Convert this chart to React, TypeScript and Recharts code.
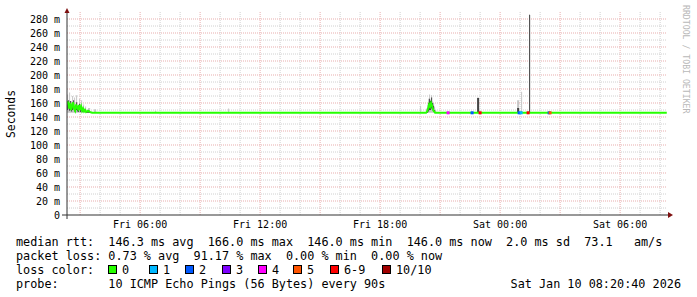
import {
    Area,
    CartesianGrid,
    ComposedChart,
    Line,
    ReferenceDot,
    Scatter,
    XAxis,
    YAxis
} from 'recharts';

// time is minutes after Fri 00:00, graph spans Fri 02:20:40 .. Sat 08:20:40
const START = 140.67;
const END = 1940.67;

const sampleMinutes = [
    141, 144, 147, 150, 153, 156, 159, 162, 165, 168, 171, 174, 177, 180, 183, 186, 189, 192, 195, 198,
    204, 210, 216, 222, 228, 405, 408, 624, 627, 1200, 1203, 1218, 1221, 1224, 1227, 1230, 1233, 1236,
    1239, 1242, 1245, 1248, 1371, 1377, 1491, 1497, 1503, 1506, 1527, 1530, 1940
];
const medianMs = [
    158, 162, 152, 160, 150, 156, 161, 152, 149, 158, 153, 151, 157, 150, 155, 149, 152, 148, 150, 147,
    149, 147, 146, 146, 146, 146, 146, 146, 146, 146, 146, 146, 148, 152, 158, 155, 160, 156,
    150, 148, 146, 146, 146, 146, 146, 146, 146, 146, 146, 146, 146
];
const smokeLowMs = [
    146, 146, 146, 146, 146, 146, 146, 146, 146, 146, 146, 146, 146, 146, 146, 146, 146, 146, 146, 146,
    146, 146, 146, 146, 146, 146, 146, 146, 146, 146, 146, 146, 146, 146, 146, 146, 146, 146,
    146, 146, 146, 146, 146, 146, 146, 146, 146, 146, 146, 146, 146
];
const smokeHighMs = [
    172, 160, 175, 158, 162, 170, 156, 168, 152, 171, 158, 150, 166, 152, 164, 150, 158, 148, 155, 148,
    153, 148, 147, 151, 146, 149, 146, 152, 146, 156, 146, 152, 158, 166, 172, 164, 171, 162,
    160, 154, 150, 146, 168, 146, 164, 146, 176, 146, 286, 146, 146
];
const coreLowMs = [
    150, 153, 149, 152, 148, 150, 153, 148, 147, 150, 148, 147, 150, 147, 149, 147, 148, 147, 147, 146,
    146, 146, 146, 146, 146, 146, 146, 146, 146, 146, 146, 146, 146, 148, 150, 150, 152, 150,
    147, 146, 146, 146, 146, 146, 146, 146, 146, 146, 146, 146, 146
];
const coreHighMs = [
    162, 164, 156, 163, 152, 158, 164, 154, 151, 161, 155, 152, 159, 151, 156, 150, 153, 149, 151, 148,
    149, 147, 146, 146, 146, 146, 146, 146, 146, 146, 146, 148, 152, 160, 166, 163, 168, 160,
    156, 150, 147, 146, 167, 146, 153, 146, 148, 146, 286, 146, 146
];

// samples where pings were lost (median drawn in loss colour)
const lossMinutes = [1284, 1356, 1380, 1497, 1503, 1524, 1587, 1590];
const lossMedianMs = [146, 146, 146, 146, 146, 146, 146, 146];
const lossPings = [4, 2, 6, 2, 1, 9, 2, 5];

const lossLabels = ['0', '1', '2', '3', '4', '5', '6-9', '10/10'];
const lossPalette = ['#26ff00', '#00b8ff', '#0059ff', '#7e00ff', '#ff00ff', '#ff5500', '#ff0000', '#a10000'];

const yTicks = [0, 20, 40, 60, 80, 100, 120, 140, 160, 180, 200, 220, 240, 260, 280];
const xTicks = [360, 720, 1080, 1440, 1800];
const xTickLabels = ['Fri 06:00', 'Fri 12:00', 'Fri 18:00', 'Sat 00:00', 'Sat 06:00'];

const statLines = [
    'median rtt:  146.3 ms avg  166.0 ms max  146.0 ms min  146.0 ms now  2.0 ms sd  73.1   am/s',
    'packet loss: 0.73 % avg  91.17 % max  0.00 % min  0.00 % now',
];
const probeLine = 'probe:       10 ICMP Echo Pings (56 Bytes) every 90s';
const stampLine = 'Sat Jan 10 08:20:40 2026';

const MONO = '"DejaVu Sans Mono", monospace';

const hourGrid = Array.from({ length: 30 }, (_, i) => (i + 3) * 60);
const majorX = hourGrid.filter(m => m % 180 === 0);
const minorX = hourGrid.filter(m => m % 180 !== 0);
const msGrid = Array.from({ length: 28 }, (_, i) => (i + 1) * 10);
const majorY = msGrid.filter(v => v % 20 === 0);
const minorY = msGrid.filter(v => v % 20 !== 0);

const lossColor = (n: number) => {
    if (n >= 10) return lossPalette[7];
    if (n >= 6) return lossPalette[6];
    return lossPalette[n];
};

const LossMark = (p: any) => (
    <rect x={p.cx - 1.5} y={p.cy - 1.5} width={3} height={3} fill={lossColor(p.payload.n)} />
);

export default function App() {
    const rows = sampleMinutes.map((m, i) => ({
        m,
        median: medianMs[i],
        smoke: [smokeLowMs[i], smokeHighMs[i]],
        core: [coreLowMs[i], coreHighMs[i]],
    }));
    const lossRows = lossMinutes.map((m, i) => ({ m, v: lossMedianMs[i], n: lossPings[i] }));

    return (
        <div style={{ position: 'absolute', left: 0, top: 0, width: 697, height: 297, background: '#fff' }}>
            <ComposedChart width={697} height={297} data={rows}
                margin={{ top: 12, right: 30, bottom: 62, left: 0 }}>
                <CartesianGrid horizontalValues={minorY} verticalValues={minorX}
                    stroke="#d0d0d0" strokeDasharray="1 1" />
                <CartesianGrid horizontalValues={majorY} verticalValues={majorX}
                    stroke="#e8adad" strokeDasharray="1 1" />
                <XAxis dataKey="m" type="number" domain={[START, END]} allowDataOverflow
                    ticks={xTicks} interval={0}
                    tickFormatter={(v: number) => xTickLabels[xTicks.indexOf(v)]}
                    height={20} tickLine={false} tickSize={0} tickMargin={6}
                    axisLine={{ stroke: '#333' }}
                    tick={{ fontFamily: MONO, fontSize: 10, fill: '#000' }} />
                <YAxis type="number" domain={[0, 290]} allowDataOverflow ticks={yTicks} interval={0}
                    tickFormatter={(v: number) => (v === 0 ? '0' : `${v} m`)}
                    width={67} tickLine={false} tickSize={0} tickMargin={7}
                    axisLine={{ stroke: '#333' }}
                    tick={{ fontFamily: MONO, fontSize: 10, fill: '#000' }} />
                <Area dataKey="smoke" type="stepAfter" fill="#c6c6c6" fillOpacity={1} stroke="none"
                    isAnimationActive={false} />
                <Area dataKey="core" type="stepAfter" fill="#454545" fillOpacity={1} stroke="none"
                    isAnimationActive={false} />
                <Line dataKey="median" type="linear" stroke="#26ff00" strokeWidth={2} dot={false}
                    isAnimationActive={false} />
                <Scatter data={lossRows} dataKey="v" shape={LossMark} isAnimationActive={false} />
                <ReferenceDot x={START} y={0} r={0} ifOverflow="visible"
                    shape={(p: any) => (
                        <g stroke="#333">
                            <line x1={p.cx - 5} y1={p.cy} x2={p.cx} y2={p.cy} />
                            <line x1={p.cx} y1={p.cy} x2={p.cx} y2={p.cy + 4} />
                        </g>
                    )} />
                <ReferenceDot x={END} y={0} r={0} ifOverflow="visible"
                    shape={(p: any) => (
                        <g>
                            <line x1={p.cx} y1={p.cy} x2={p.cx + 2} y2={p.cy} stroke="#333" />
                            <path d={`M${p.cx + 1},${p.cy - 3}L${p.cx + 6},${p.cy}L${p.cx + 1},${p.cy + 3}Z`} fill="#7f1010" />
                        </g>
                    )} />
                <ReferenceDot x={START} y={290} r={0} ifOverflow="visible"
                    shape={(p: any) => (
                        <path d={`M${p.cx - 2.5},${p.cy + 1}L${p.cx},${p.cy - 4}L${p.cx + 2.5},${p.cy + 1}Z`} fill="#7f1010" />
                    )} />
            </ComposedChart>
            <svg width={697} height={297} style={{ position: 'absolute', left: 0, top: 0, pointerEvents: 'none' }}>
                <text x={15} y={114} transform="rotate(-90 15 114)" textAnchor="middle"
                    fontFamily={MONO} fontSize={11.4} fill="#000">Seconds</text>
                <text x={683} y={5} transform="rotate(90 683 5)" fontFamily={MONO} fontSize={8.2}
                    fill="#b8b8b8" xmlSpace="preserve" style={{ whiteSpace: 'pre' }}>RRDTOOL / TOBI OETIKER</text>
                <g fontFamily={MONO} fontSize={11.8} fill="#000" style={{ whiteSpace: 'pre' }}>
                    {statLines.map((s, i) => (
                        <text key={i} x={16} y={245.5 + i * 14} xmlSpace="preserve">{s}</text>
                    ))}
                    <text x={16} y={273.5} xmlSpace="preserve">loss color:</text>
                    {lossLabels.map((l, i) => {
                        const bx = [108, 149, 185, 222, 258, 293, 330, 382][i];
                        return (
                            <g key={l}>
                                <rect x={bx + 0.5} y={265.5} width={8} height={8} fill={lossPalette[i]} stroke="#000" />
                                <text x={bx + 14} y={273.5}>{l}</text>
                            </g>
                        );
                    })}
                    <text x={16} y={287.5} xmlSpace="preserve">{probeLine}</text>
                    <text x={681} y={287.5} textAnchor="end">{stampLine}</text>
                </g>
            </svg>
        </div>
    );
}
